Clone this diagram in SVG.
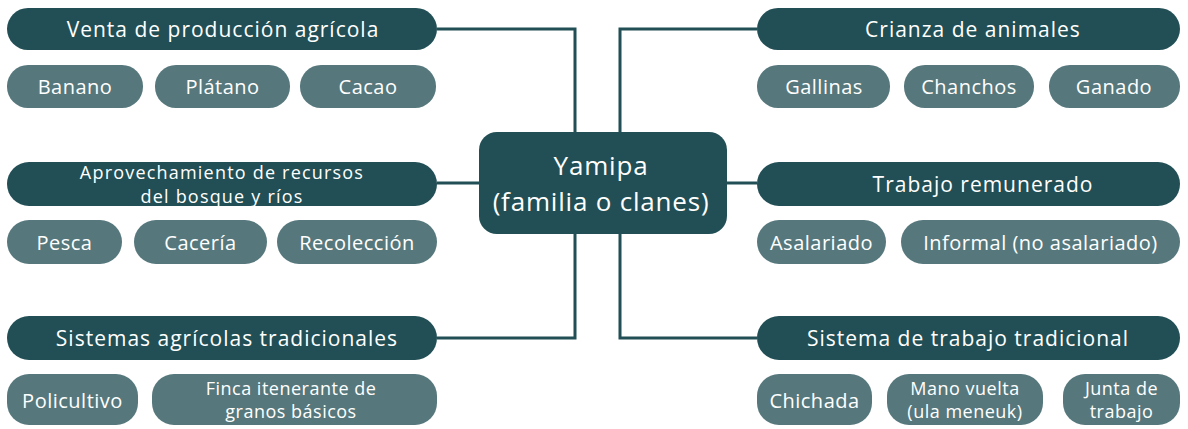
<svg xmlns="http://www.w3.org/2000/svg" width="1188" height="429" viewBox="0 0 1188 429">
<style>
.h{fill:#214f55}
.s{fill:#56787d}
.c{fill:#214f55}
text{font-family:"Open Sans","Liberation Sans",sans-serif;fill:#ffffff;text-anchor:middle;dominant-baseline:central}
.ht{font-size:21px;letter-spacing:1px}
.h2{font-size:18px;letter-spacing:1.2px}
.st{font-size:20px;letter-spacing:0.5px}
.s2{font-size:18px;letter-spacing:0.5px}
.ct{font-size:26px;letter-spacing:0.8px}
.conn{fill:none;stroke:#214f55;stroke-width:3}
</style>
<rect width="1188" height="429" fill="#ffffff"/>
<g id="connectors">
<polyline class="conn" points="437,29 575,29 575,133"/>
<polyline class="conn" points="757,29 620,29 620,133"/>
<line class="conn" x1="437" y1="183" x2="480" y2="183"/>
<line class="conn" x1="726" y1="183" x2="757" y2="183"/>
<polyline class="conn" points="437,338 575,338 575,233"/>
<polyline class="conn" points="757,338 620,338 620,233"/>
</g>
<g id="center">
<rect class="c" x="479" y="132" width="248" height="102" rx="18"/>
<text class="ct" x="601" y="164.5">Yamipa</text>
<text class="ct" x="601" y="200.5">(familia o clanes)</text>
</g>
<g id="venta">
<rect class="h" x="7" y="8" width="430" height="42" rx="21"/>
<text class="ht" x="223" y="29">Venta de producción agrícola</text>
</g>
<g id="banano"><rect class="s" x="7" y="65" width="136" height="43" rx="21"/><text class="st" x="75" y="86.5">Banano</text></g>
<g id="platano"><rect class="s" x="155" y="65" width="135" height="43" rx="21"/><text class="st" x="222.5" y="86.5">Plátano</text></g>
<g id="cacao"><rect class="s" x="300" y="65" width="136" height="43" rx="21"/><text class="st" x="368" y="86.5">Cacao</text></g>
<g id="crianza">
<rect class="h" x="757" y="8" width="423" height="42" rx="21"/>
<text class="ht" x="973" y="29">Crianza de animales</text>
</g>
<g id="gallinas"><rect class="s" x="757" y="65" width="133" height="43" rx="21"/><text class="st" x="824" y="86.5">Gallinas</text></g>
<g id="chanchos"><rect class="s" x="904" y="65" width="130" height="43" rx="21"/><text class="st" x="969" y="86.5">Chanchos</text></g>
<g id="ganado"><rect class="s" x="1049" y="65" width="131" height="43" rx="21"/><text class="st" x="1114" y="86.5">Ganado</text></g>
<g id="aprovechamiento">
<rect class="h" x="7" y="162" width="430" height="44" rx="22"/>
<text class="h2" x="222" y="171.5">Aprovechamiento de recursos</text>
<text class="h2" x="222" y="196">del bosque y ríos</text>
</g>
<g id="pesca"><rect class="s" x="7" y="220" width="115" height="44" rx="22"/><text class="st" x="64.5" y="242">Pesca</text></g>
<g id="caceria"><rect class="s" x="134" y="220" width="133" height="44" rx="22"/><text class="st" x="200.5" y="242">Cacería</text></g>
<g id="recoleccion"><rect class="s" x="277" y="220" width="160" height="44" rx="22"/><text class="st" x="357" y="242">Recolección</text></g>
<g id="trabajo">
<rect class="h" x="757" y="162" width="423" height="44" rx="22"/>
<text class="ht" x="983" y="184">Trabajo remunerado</text>
</g>
<g id="asalariado"><rect class="s" x="757" y="220" width="129" height="44" rx="22"/><text class="st" x="821.5" y="242">Asalariado</text></g>
<g id="informal"><rect class="s" x="901" y="220" width="279" height="44" rx="22"/><text class="st" x="1040.5" y="242">Informal (no asalariado)</text></g>
<g id="sistemas">
<rect class="h" x="7" y="316" width="430" height="44" rx="22"/>
<text class="ht" x="227" y="338">Sistemas agrícolas tradicionales</text>
</g>
<g id="policultivo"><rect class="s" x="7" y="374" width="131" height="51" rx="22"/><text class="st" x="72.5" y="400">Policultivo</text></g>
<g id="finca"><rect class="s" x="152" y="374" width="285" height="51" rx="22"/><text class="s2" x="291" y="388">Finca itenerante de</text><text class="s2" x="291" y="411">granos básicos</text></g>
<g id="sistematrabajo">
<rect class="h" x="757" y="316" width="423" height="44" rx="22"/>
<text class="ht" x="968" y="338">Sistema de trabajo tradicional</text>
</g>
<g id="chichada"><rect class="s" x="757" y="374" width="115" height="51" rx="22"/><text class="st" x="814.5" y="400">Chichada</text></g>
<g id="manovuelta"><rect class="s" x="887" y="374" width="156" height="51" rx="22"/><text class="s2" x="965" y="388">Mano vuelta</text><text class="s2" x="965" y="411">(ula meneuk)</text></g>
<g id="junta"><rect class="s" x="1063" y="374" width="117" height="51" rx="22"/><text class="s2" x="1121.5" y="388">Junta de</text><text class="s2" x="1121.5" y="411">trabajo</text></g>
</svg>
